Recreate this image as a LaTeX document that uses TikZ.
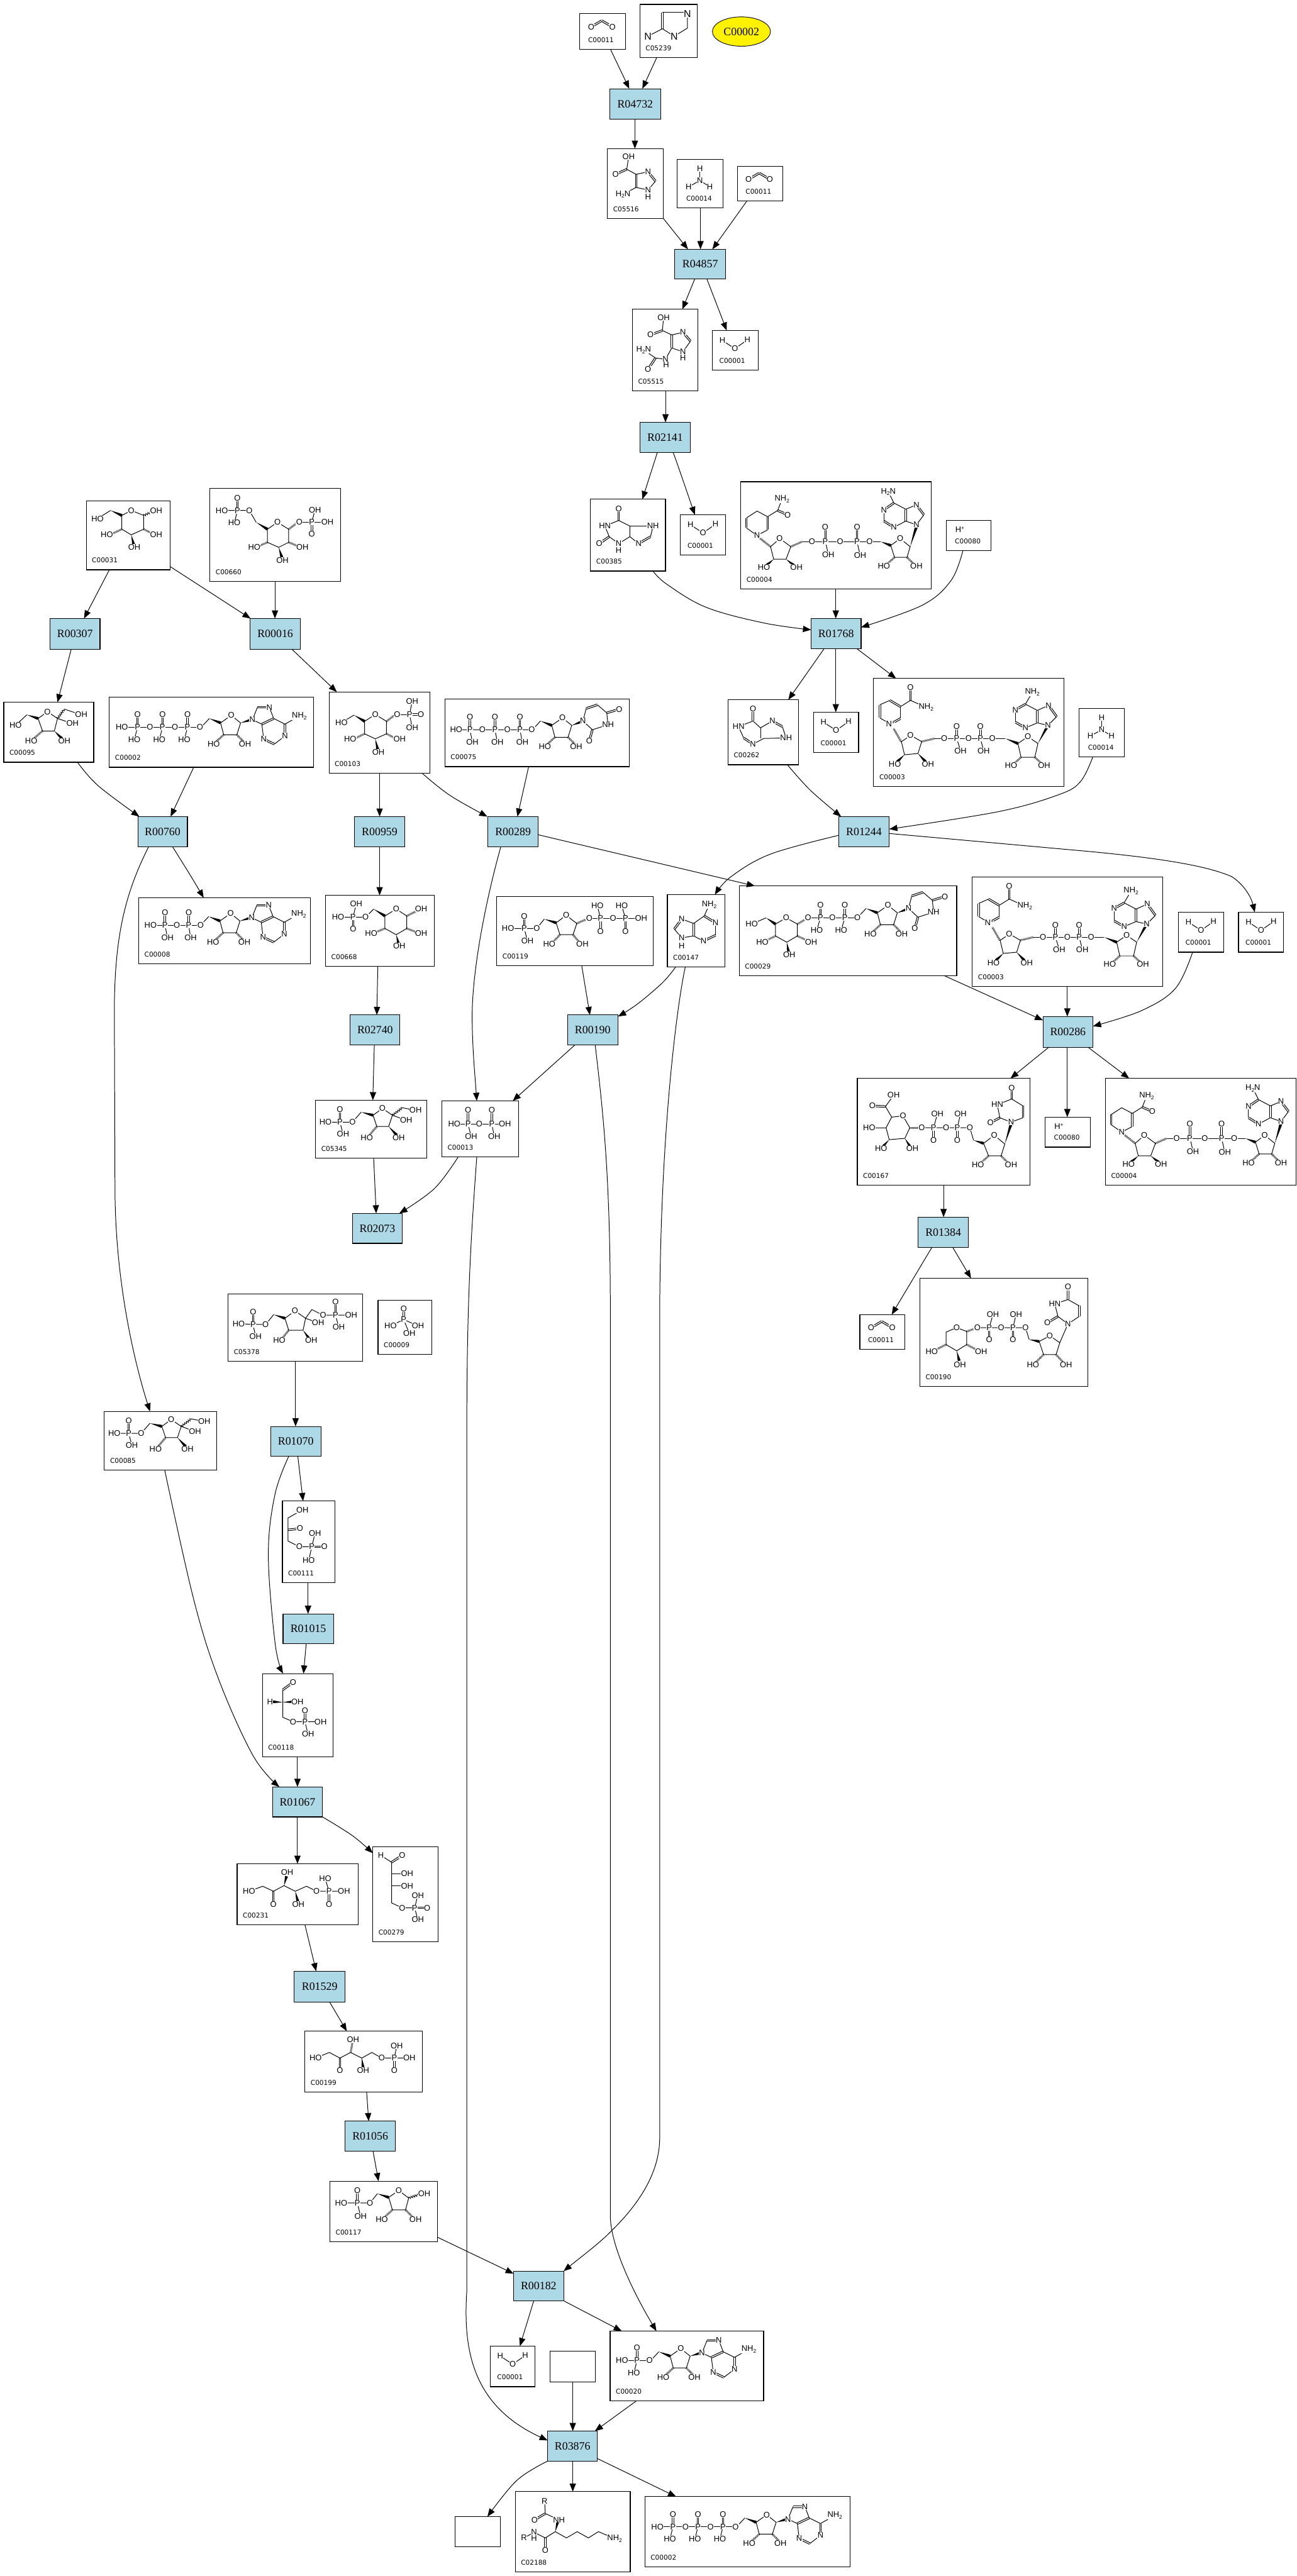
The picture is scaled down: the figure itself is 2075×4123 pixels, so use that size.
\documentclass[tikz,border=0pt]{standalone}
\usepackage{fontspec}
\usetikzlibrary{arrows.meta,calc,shapes.geometric,decorations.pathmorphing}
\newfontfamily\atomf{Liberation Sans}
\newfontfamily\capf{DejaVu Sans}
\newfontfamily\rxf{Liberation Serif}
\newcounter{atomc}
\definecolor{rxblue}{HTML}{ADD8E6}
\tikzset{
 cpd/.style={draw=black,line width=1.1pt,fill=white,inner sep=0,outer sep=0},
 rxn/.style={draw=black,line width=1.1pt,fill=rxblue,inner sep=0,outer sep=0,font=\rxf\fontsize{18}{18}\selectfont},
 capn/.style={inner sep=0,font=\capf\fontsize{10.6}{11}\selectfont},
 atom/.style={inner sep=.4pt,fill=white,font=\atomf\fontsize{13}{13}\selectfont},
 bd/.style={line width=1pt},
 wv/.style={line width=.9pt,decorate,decoration={zigzag,segment length=3.5pt,amplitude=1.6pt}},
 hs/.style={line width=3.2pt,dash pattern=on .8pt off 1.2pt},
 arr/.style={line width=1pt,-{Triangle[length=13pt,width=10pt]}}
}
\newcommand\Cpd[8][9]{%
 \node[cpd,minimum width={#5-#3},minimum height={#6-#4}] (#2) at ({(#3+#5)/2},{(#4+#6)/2}) {};
 \node[capn,anchor=west] (cap#2) at ({#3+#1},{#6-15}) {#7};
 \begin{scope}[shift={(#3,#4)}]#8\end{scope}}
\newcommand\Blank[5]{\node[cpd,minimum width={#4-#2},minimum height={#5-#3}] (#1) at ({(#2+#4)/2},{(#3+#5)/2}) {};}
\newcommand\Rx[5]{\node[rxn,minimum width={#4-#2},minimum height={#5-#3}] (#1) at ({(#2+#4)/2},{(#3+#5)/2}) {#1};}
\newcommand\At[4][]{\stepcounter{atomc}\node[atom,#1] (a\arabic{atomc}) at (#2,#3) {#4};}
\newcommand\Ats[1]{\foreach \x/\y/\tx in {#1}{\At{\x}{\y}{\tx}}}
\newcommand\Bd[1]{\draw[bd] #1;}
\def\Db#1{\DbX#1\relax}
\def\DbX(#1)--(#2)\relax{\draw[bd] ($(#1)!1.3pt!90:(#2)$) -- ($(#2)!1.3pt!-90:(#1)$);\draw[bd] ($(#1)!1.3pt!-90:(#2)$) -- ($(#2)!1.3pt!90:(#1)$);}
\newcommand\Wv[1]{\draw[wv] #1;}
\newcommand\Hs[4]{\draw[hs] (#1,#2) -- (#3,#4);}
\newcommand\Wd[4]{\fill ($(#3,#4)!2.4pt!90:(#1,#2)$) -- (#1,#2) -- ($(#3,#4)!2.4pt!-90:(#1,#2)$) -- cycle;}
\newcommand\NHii{NH\raisebox{-2.5pt}{\fontsize{8.5}{8.5}\selectfont 2}}
\newcommand\HiiN{H\raisebox{-2.5pt}{\fontsize{8.5}{8.5}\selectfont 2}N}
\newcommand\Hplus{H\raisebox{4pt}{\fontsize{8.5}{8.5}\selectfont +}}
\newcommand\Nplus{N\raisebox{4pt}{\fontsize{8.5}{8.5}\selectfont +}}
\newcommand\Pu[4]{\Db{(#1,#2)--(#1,{#2-20})}\Bd{(#1,#2)--({#1+#3},{#2+20})}\At{#1}{#2}{P}\At{#1}{#2-20}{O}\At{#1+#3}{#2+20}{#4}}
% ribose, origin at ring O
\newcommand\Ribo{\Bd{(0,0)--(15,12)--(9,31)--(-12,31)--(-17,12)--cycle}\Wd{-35}{5}{-17}{12}\Bd{(-35,5)--(-49,20)}\Hs{-12}{31}{-24}{42}\Hs{9}{31}{20}{42}\Ats{0/0/O,-28/46/HO,22/46/OH}}
\newcommand\Ade{\Wd{15}{12}{32}{7}\Bd{(34,7)--(42,-13)}\Db{(42,-13)--(61,-13)}\Bd{(61,-13)--(68,5)}\Db{(68,5)--(49,14)}\Bd{(49,14)--(34,7)}\Bd{(49,14)--(52,38)}\Db{(52,38)--(69,46)}\Bd{(69,46)--(86,33)}\Db{(86,33)--(86,14)}\Bd{(86,14)--(68,5)}\Bd{(86,14)--(109,1)}\Ats{34/7/N,61/-13/N,52/38/N,86/33/N,109/1/\NHii}}
\newcommand\Ura{\Wd{15}{12}{31}{6}\Bd{(33,5)--(38,-15)}\Db{(38,-15)--(56,-21)}\Bd{(56,-21)--(71,-8)--(73,11)--(48,19)--(33,5)}\Db{(71,-8)--(91,-14)}\Db{(48,19)--(43,37)}\Ats{33/5/N,73/11/NH,91/-14/O,43/37/O}}
\newcommand\mCO{\Db{(18,21)--(35,11)}\Db{(35,11)--(52,21)}\Ats{18/21/O,52/21/O}}
\newcommand\mWater{\Bd{(16,16)--(36,29)--(56,15)}\Ats{16/16/H,36/29/O,56/15/H}}
\newcommand\mNH{\Bd{(36,15)--(36,34)}\Bd{(18,44)--(36,34)--(52,44)}\Ats{36/15/H,36/34/N,18/44/H,52/44/H}}
\newcommand\mHp{\At{22}{15}{\Hplus}}
\newcommand\mImid{\Bd{(36,13)--(72,13)}\Bd{(76,15)--(76,38)--(55,51)--(36,39)}\Db{(36,13)--(36,39)}\Bd{(36,39)--(13,51)}\At[font=\atomf\fontsize{16}{16}\selectfont]{76}{15}{N}\At[font=\atomf\fontsize{16}{16}\selectfont]{55}{51}{N}\At[font=\atomf\fontsize{16}{16}\selectfont]{13}{51}{N}}
\newcommand\mAIR{\Bd{(34,13)--(31,33)}\Db{(31,33)--(13,41)}\Bd{(31,33)--(46,41)--(65,37)}\Db{(65,37)--(77,52)}\Bd{(77,52)--(65,66)--(46,62)}\Db{(46,41)--(46,62)}\Bd{(46,62)--(25,73)}\Ats{34/13/OH,13/41/O,65/37/N,65/66/N,65/77/H,25/73/\HiiN}}
\newcommand\mCAIR{\Bd{(50,13)--(48,34)}\Db{(48,34)--(29,41)}\Bd{(48,34)--(63,41)--(81,37)}\Db{(81,37)--(93,51)}\Bd{(93,51)--(81,68)--(63,62)}\Db{(63,41)--(63,62)}\Bd{(63,62)--(53,80)--(37,78)--(18,65)}\Db{(37,78)--(25,96)}\Ats{50/13/OH,29/41/O,81/37/N,81/68/N,81/78/H,53/80/N,54/89/H,18/65/\HiiN,25/96/O}}
\newcommand\mXan{\Db{(45,15)--(45,34)}\Bd{(45,34)--(23,43)--(30,60)--(45,71)--(63,60)--(63,43)--(45,34)}\Db{(30,60)--(14,71)}\Bd{(63,43)--(100,43)--(96,60)}\Db{(96,60)--(77,71)}\Bd{(77,71)--(63,60)}\Ats{45/15/O,23/43/HN,14/71/O,45/71/N,45/82/H,100/43/NH,77/71/N}}
\newcommand\mHyp{\Db{(40,14)--(40,34)}\Bd{(40,34)--(17,43)--(25,61)}\Db{(25,61)--(40,71)}\Bd{(40,71)--(57,62)--(93,61)--(87,43)}\Db{(87,43)--(71,34)}\Bd{(71,34)--(52,45)--(40,34)}\Bd{(52,45)--(52,62)}\Ats{40/14/O,17/43/HN,40/71/N,71/34/N,93/61/NH}}
\newcommand\mGlc{\Bd{(72,15)--(92,23)--(92,45)--(72,54)--(57,45)--(57,23)--cycle}\Wd{39}{15}{57}{23}\Bd{(39,15)--(18,28)}\Wv{(92,23)--(108,16)}\Hs{92}{45}{108}{53}\Hs{57}{45}{40}{53}\Wd{72}{54}{76}{70}\Ats{72/15/O,18/28/HO,112/15/OH,112/54/OH,33/54/HO,77/74/OH}}
\newcommand\mUDPAG{\Bd{(108,54)--(126,65)--(126,86)--(110,94)--(92,86)--(92,65)--cycle}\Wd{74}{54}{92}{65}\Bd{(74,54)--(63,35)--(19,35)}\Db{(44,35)--(44,15)}\Bd{(44,35)--(39,55)}\Hs{126}{65}{138}{56}\Bd{(143,54)--(188,54)}\Bd{(163,54)--(168,34)}\Db{(163,54)--(163,73)}\Hs{126}{86}{143}{93}\Hs{92}{86}{76}{93}\Wd{110}{94}{115}{110}\Ats{108/54/O,63/35/O,44/35/P,44/15/O,19/35/HO,39/55/HO,143/54/O,163/54/P,168/34/OH,188/54/OH,163/73/O,71/94/HO,148/94/OH,116/115/OH}}
\newcommand\mGoneP{\Bd{(74,36)--(92,47)--(92,67)--(74,75)--(57,67)--(57,47)--cycle}\Wd{40}{37}{57}{47}\Bd{(40,37)--(20,49)}\Hs{92}{47}{104}{38}\Bd{(109,36)--(129,36)}\Db{(129,36)--(147,36)}\Bd{(133,15)--(129,36)--(133,57)}\Hs{92}{67}{108}{75}\Hs{57}{67}{40}{75}\Wd{74}{75}{78}{92}\Ats{74/36/O,20/49/HO,109/36/O,129/36/P,147/36/O,133/15/OH,133/57/OH,34/75/HO,113/75/OH,79/96/OH}}
\newcommand\mGsixP{\Bd{(113,22)--(130,33)--(130,53)--(113,63)--(95,53)--(95,33)--cycle}\Wd{77}{22}{95}{33}\Bd{(77,22)--(64,35)--(20,35)}\Bd{(44,35)--(49,14)}\Db{(44,35)--(44,54)}\Hs{130}{33}{148}{24}\Hs{130}{53}{148}{60}\Hs{95}{53}{78}{60}\Wd{113}{63}{117}{78}\Ats{113/22/O,64/35/O,44/35/P,49/14/OH,20/35/HO,44/54/O,153/22/OH,153/61/OH,73/61/HO,118/81/OH}}
\newcommand\mFru{\Bd{(70,15)--(86,26)--(81,46)--(62,46)--(55,26)--cycle}\Wd{37}{20}{55}{26}\Bd{(37,20)--(19,37)}\Wv{(86,26)--(97,11)}\Bd{(97,11)--(124,20)}\Bd{(86,26)--(110,34)}\Hs{62}{46}{48}{58}\Wd{81}{46}{93}{58}\Ats{70/15/O,19/37/HO,124/20/OH,110/34/OH,44/62/HO,97/62/OH}}
\newcommand\mFsix{\Bd{(107,13)--(123,24)--(117,42)--(98,42)--(92,24)--cycle}\Wd{73}{19}{92}{24}\Bd{(73,19)--(59,35)--(16,35)}\Db{(39,35)--(39,15)}\Bd{(39,35)--(44,54)}\Wv{(123,24)--(139,12)}\Bd{(139,12)--(160,16)}\Bd{(123,24)--(145,32)}\Hs{98}{42}{86}{56}\Wd{117}{42}{130}{56}\Ats{107/13/O,59/35/O,39/35/P,39/15/O,16/35/HO,44/54/OH,160/16/OH,145/32/OH,82/60/HO,133/60/OH}}
\newcommand\mFbP{\Bd{(107,27)--(124,39)--(120,58)--(97,58)--(91,39)--cycle}\Wd{73}{33}{91}{39}\Bd{(73,33)--(60,49)--(17,48)}\Db{(40,49)--(40,29)}\Bd{(40,49)--(44,68)}\Bd{(124,39)--(134,25)--(152,34)--(197,34)}\Db{(172,34)--(172,13)}\Bd{(172,34)--(177,53)}\Bd{(124,39)--(144,46)}\Hs{97}{58}{86}{72}\Wd{120}{58}{130}{72}\Ats{107/27/O,60/49/O,40/49/P,40/29/O,17/48/HO,44/68/OH,152/34/O,172/34/P,172/13/O,197/34/OH,177/53/OH,144/46/OH,82/74/HO,133/74/OH}}
\newcommand\mPPi{\Bd{(20,37)--(101,37)}\Db{(42,37)--(42,15)}\Db{(80,37)--(80,15)}\Bd{(42,37)--(47,57)}\Bd{(80,37)--(84,57)}\Ats{20/37/HO,42/37/P,60/37/O,80/37/P,101/37/OH,42/15/O,80/15/O,47/57/OH,84/57/OH}}
\newcommand\mPi{\Db{(41,14)--(41,31)}\Bd{(20,41)--(41,31)--(64,41)}\Bd{(41,31)--(50,53)}\Ats{41/14/O,41/31/P,20/41/HO,64/41/OH,50/53/OH}}
\newcommand\mPRPP{\Bd{(111,30)--(128,43)--(122,61)--(101,61)--(95,42)--cycle}\Wd{76}{36}{95}{42}\Bd{(76,36)--(64,51)--(18,51)}\Db{(44,51)--(44,32)}\Bd{(44,51)--(49,71)}\Hs{128}{43}{142}{37}\Bd{(148,35)--(231,35)}\Bd{(166,35)--(161,15)}\Db{(166,35)--(166,56)}\Bd{(206,35)--(200,15)}\Db{(206,35)--(206,56)}\Hs{101}{61}{90}{73}\Hs{122}{61}{132}{73}\Ats{111/30/O,64/51/O,44/51/P,44/32/O,18/51/HO,49/71/OH,148/35/O,166/35/P,161/15/HO,166/56/O,186/35/O,206/35/P,200/15/HO,206/56/O,231/35/OH,84/76/HO,137/76/OH}}
\newcommand\mAdenine{\Bd{(67,16)--(59,34)}\Db{(59,34)--(77,45)}\Bd{(77,45)--(77,65)}\Db{(77,65)--(58,74)}\Bd{(58,74)--(42,66)}\Bd{(42,46)--(59,34)}\Db{(42,46)--(42,66)}\Bd{(42,46)--(23,39)}\Db{(23,39)--(11,55)}\Bd{(11,55)--(23,69)--(42,66)}\Ats{67/16/\NHii,77/45/N,58/74/N,23/39/N,23/69/N,23/82/H}}
\newcommand\mATP{\begin{scope}[shift={(195,29)}]\Ribo\Ade\Bd{(-175,19)--(-49,19)}\Pu{-70}{19}{-5}{HO}\Pu{-110}{19}{-5}{HO}\Pu{-150}{19}{-5}{HO}\Ats{-50/19/O,-90/19/O,-130/19/O,-175/19/HO}\end{scope}}
\newcommand\mADP{\begin{scope}[shift={(147,25)}]\Ribo\Ade\Bd{(-128,19)--(-48,19)}\Pu{-67}{19}{3}{OH}\Pu{-105}{19}{4}{OH}\Ats{-48/19/O,-86/19/O,-128/19/HO}\end{scope}}
\newcommand\mAMP{\begin{scope}[shift={(113,28)}]\Ribo\Ade\Bd{(-94,19)--(-49,19)}\Pu{-70}{19}{-5}{HO}\Ats{-50/19/O,-94/19/HO}\end{scope}}
\newcommand\mUTP{\begin{scope}[shift={(188,30)}]\Ribo\Ura\Bd{(-170,19)--(-49,19)}\Pu{-68}{19}{4}{OH}\Pu{-108}{19}{4}{OH}\Pu{-148}{19}{4}{OH}\Ats{-49/19/O,-88/19/O,-128/19/O,-170/19/HO}\end{scope}}
\newcommand\mUDPG{\begin{scope}[shift={(238,31)}]\Ribo\Ura\end{scope}\Bd{(75,51)--(93,61)--(93,80)--(76,90)--(58,80)--(58,61)--cycle}\Wd{43}{51}{58}{61}\Bd{(43,51)--(20,61)}\Hs{93}{61}{105}{54}\Bd{(110,51)--(189,51)}\Pu{130}{51}{-6}{HO}\Pu{169}{51}{-6}{HO}\Hs{93}{80}{110}{88}\Hs{58}{80}{42}{88}\Wd{76}{90}{79}{106}\Ats{75/51/O,20/61/HO,37/90/HO,115/90/OH,80/110/OH,110/51/O,149/51/O,189/51/O}}
\newcommand\mNADH{\Bd{(26,86)--(9,74)}\Db{(9,74)--(9,58)}\Bd{(9,58)--(26,47)--(43,56)}\Db{(43,56)--(43,77)}\Bd{(43,77)--(26,86)}\Bd{(43,56)--(59,46)--(66,28)}\Db{(59,46)--(75,53)}\Hs{47.6}{104}{30}{90}%
\Bd{(62.5,91)--(47.6,104)--(52.6,124)--(72.5,124)--(80,104)--cycle}\Wd{52.6}{124}{41}{134}\Wd{72.5}{124}{85}{134}\Hs{80}{104}{98}{96}\Bd{(98,96)--(224,96)}\Db{(135.5,96)--(135.5,73)}\Bd{(135.5,96)--(140,116)}\Db{(186,96)--(186,73)}\Bd{(186,96)--(191,118)}\Wd{224}{96}{240}{102}%
\Bd{(255,91)--(271,104)--(266,121)--(246,121)--(240,102)--cycle}\Hs{246}{121}{234}{132}\Hs{266}{121}{277}{132}\Wd{271}{104}{281}{72}%
\Bd{(281,69)--(293,53)}\Db{(293,53)--(281,37)}\Bd{(281,37)--(264,44)}\Db{(264,44)--(264,63)}\Bd{(264,63)--(281,69)}\Bd{(264,63)--(245,73)}\Db{(245,73)--(229,63)}\Bd{(229,63)--(229,45)}\Db{(229,45)--(245,34)}\Bd{(245,34)--(264,44)}\Bd{(245,34)--(236,16)}%
\Ats{26/86/N,75/53/O,66/28/\NHii,62/91/O,37/137/HO,89/137/OH,114/96/O,135/96/P,135/73/O,140/117/OH,159/96/O,186/96/P,186/73/O,191/118/OH,206/96/O,255/91/O,229/135/HO,281/135/OH,281/69/N,281/37/N,245/73/N,229/45/N,236/16/\HiiN}}
\newcommand\mNADp{\Bd{(27,73)--(10,63)}\Db{(10,63)--(10,42)}\Bd{(10,42)--(26,35)}\Db{(26,35)--(43,45)}\Bd{(43,45)--(43,64)}\Db{(43,64)--(27,73)}\Bd{(43,45)--(59,35)--(84,46)}\Db{(59,35)--(59,14)}\Hs{44}{101}{32}{80}%
\Bd{(59.5,91)--(44.5,101)--(49.5,122)--(71,120)--(77,101)--cycle}\Wd{49.5}{122}{38}{133}\Wd{71}{120}{83}{133}\Hs{77}{101}{97}{96}\Bd{(97,96)--(211,96)}\Db{(133,96)--(133,77)}\Bd{(133,96)--(139,115)}\Db{(171,96)--(171,77)}\Bd{(171,96)--(176,115)}\Wd{211}{96}{231}{104}%
\Bd{(247,93)--(263,104)--(258,126)--(236,126)--(231,104)--cycle}\Hs{236}{126}{225}{136}\Hs{258}{126}{269}{136}\Wd{263}{104}{279}{75}%
\Bd{(279,75)--(293,61)}\Db{(293,61)--(280,43)}\Bd{(280,43)--(262,51)}\Db{(262,51)--(262,71)}\Bd{(262,71)--(279,75)}\Bd{(262,71)--(243,79)}\Db{(243,79)--(227,70)}\Bd{(227,70)--(227,50)}\Db{(227,50)--(243,41)}\Bd{(243,41)--(262,51)}\Bd{(243,41)--(254,22)}%
\Ats{27/73/\Nplus,59/14/O,84/46/\NHii,59/91/O,34/137/HO,87/137/OH,113/96/O,133/96/P,133/77/O,139/116/OH,152/96/O,171/96/P,171/77/O,176/116/OH,190/96/O,247/93/O,220/139/HO,273/139/OH,279/75/N,280/43/N,243/79/N,227/50/N,254/22/\NHii}}
\newcommand\mUDPGA{\Bd{(58,27)--(45,45)--(55,62)}\Db{(45,45)--(24,44)}\Bd{(55,62)--(73,60)--(84,79)--(76,96)--(51,98)--(46,79)--cycle}\Bd{(46,79)--(19,79)}\Wd{51}{98}{40}{110}\Wd{76}{96}{85}{110}\Hs{84}{79}{98}{79}\Bd{(103,79)--(180,79)--(186,99)}\Bd{(122,79)--(128,57)}\Db{(122,79)--(122,99)}\Bd{(160,79)--(165,57)}\Db{(160,79)--(160,99)}\Wd{186}{99}{202}{104}\Bd{(219,91)--(236,105)--(230,124)--(210,124)--(202,104)--cycle}\Hs{210}{124}{198}{135}\Hs{230}{124}{241}{135}\Wd{236}{105}{246}{73}\Bd{(246,70)--(265,63)}\Db{(265,63)--(265,44)}\Bd{(265,44)--(247,33)--(224,42)--(228,63)--(246,70)}\Db{(247,33)--(247,15)}\Db{(228,63)--(213,71)}\Ats{58/27/OH,24/44/O,73/60/O,19/79/HO,38/112/HO,88/112/OH,103/79/O,122/79/P,128/57/OH,122/99/O,142/79/O,160/79/P,165/57/OH,160/99/O,180/79/O,219/91/O,193/138/HO,246/138/OH,246/70/N,247/15/O,224/42/HN,213/71/O}}
\newcommand\mUDPX{\Bd{(59,79)--(75,85)--(75,106)--(59,116)--(42,106)--(42,86)--cycle}\Hs{75}{85}{87}{81}\Bd{(92,79)--(169,79)--(175,98)}\Bd{(111,79)--(117,58)}\Db{(111,79)--(111,98)}\Bd{(149,79)--(154,58)}\Db{(149,79)--(149,98)}\Hs{42}{106}{26}{114}\Hs{75}{106}{90}{114}\Wd{59}{116}{63}{132}\Wd{175}{98}{191}{101}\Bd{(208,92)--(224,103)--(218,122)--(198,122)--(191,101)--cycle}\Hs{198}{122}{186}{134}\Hs{218}{122}{229}{134}\Bd{(224,103)--(237,73)--(255,61)}\Db{(255,61)--(255,44)}\Bd{(255,44)--(237,34)--(216,41)--(221,61)--(237,73)}\Db{(237,34)--(237,14)}\Db{(221,61)--(204,71)}\Ats{59/79/O,19/117/HO,98/117/OH,64/138/OH,92/79/O,111/79/P,117/58/OH,111/98/O,130/79/O,149/79/P,154/58/OH,149/98/O,169/79/O,208/92/O,181/138/HO,234/138/OH,237/73/N,237/14/O,216/41/HN,204/71/O}}
\newcommand\mGAP{\Db{(49,14)--(32.5,26)}\Bd{(32.5,26)--(32.5,70)--(49,77)--(93,77)}\Wd{32.5}{46}{16}{45}\Wd{32.5}{46}{50}{45}\Db{(68,77)--(68,59)}\Bd{(68,77)--(73,97)}\Ats{49/14/O,12/45/H,56/45/OH,49/77/O,68/77/P,68/59/O,93/77/OH,73/97/OH}}
\newcommand\mDHAP{\Bd{(32,14)--(9,27)--(9,64)--(27,73)--(47,73)}\Db{(9,46)--(28,44)}\Bd{(47,73)--(52,52)}\Db{(47,73)--(67,73)}\Bd{(47,73)--(42,95)}\Ats{32/14/OH,28/44/O,27/73/O,47/73/P,52/52/OH,67/73/O,42/95/HO}}
\newcommand\mXuP{\Bd{(19,44)--(41,36)--(58,44)--(75,35)--(93,44)--(111,36)--(127,44)--(171,44)}\Db{(58,44)--(58,65)}\Wd{75}{35}{79}{20}\Wd{93}{44}{97}{60}\Bd{(147,44)--(141,24)}\Db{(147,44)--(147,65)}\Ats{19/44/HO,58/65/O,80/14/OH,98/65/OH,127/44/O,147/44/P,141/24/HO,171/44/OH,147/65/O}}
\newcommand\mEP{\Bd{(13,14)--(30,25)}\Db{(30,25)--(47,14)}\Bd{(30,25)--(30,90)--(47,98)--(67,98)}\Bd{(30,43)--(55,43)}\Bd{(30,63)--(55,63)}\Bd{(67,98)--(72,78)}\Db{(67,98)--(87,98)}\Bd{(67,98)--(72,117)}\Ats{13/14/H,47/14/O,55/43/OH,55/63/OH,47/98/O,67/98/P,72/78/OH,87/98/O,72/117/OH}}
\newcommand\mRuP{\Bd{(17,43)--(39,34)--(56,43)--(73,34)--(91,43)--(107,34)--(123,43)--(167,43)}\Db{(56,43)--(56,63)}\Hs{73}{34}{76}{18}\Wd{91}{43}{93}{58}\Bd{(143,43)--(147,23)}\Db{(143,43)--(143,63)}\Ats{17/43/HO,56/63/O,77/13/OH,93/63/OH,123/43/O,143/43/P,147/23/OH,167/43/OH,143/63/O}}
\newcommand\mRFP{\Bd{(110,15)--(126,27)--(121,46)--(100,46)--(94,26)--cycle}\Wd{76}{20}{94}{26}\Bd{(76,20)--(64,35)--(18,35)}\Db{(44,35)--(44,15)}\Bd{(44,35)--(49,56)}\Wv{(126,27)--(144,21)}\Hs{100}{46}{88}{57}\Hs{121}{46}{132}{57}\Ats{110/15/O,64/35/O,44/35/P,44/15/O,18/35/HO,49/56/OH,151/20/OH,83/61/HO,137/61/OH}}
\newcommand\mLys{\Bd{(47,15)--(48,35)--(70,45)}\Db{(48,35)--(31,45)}\Wd{64}{64}{68}{48}\Bd{(30,65)--(48,74)--(64,64)--(82,74)--(99,64)--(117,74)--(133,64)--(159,75)}\Db{(48,74)--(48,94)}\Bd{(30,65)--(14,74)}\Ats{47/15/R,31/45/O,70/45/NH,48/94/O,30/65/N,30/75/H,14/74/R,159/75/\NHii}}

\begin{document}
\begin{tikzpicture}[x=1pt,y=-1pt]
\useasboundingbox (0,0) rectangle (2075,4123);
\fill[white] (0,0) rectangle (2075,4123);
% reactions
\Rx{R04732}{976}{142}{1057}{191}
\Rx{R04857}{1080}{399}{1161}{446}
\Rx{R02141}{1024}{676}{1105}{724}
\Rx{R01768}{1298}{990}{1378}{1038}
\Rx{R01244}{1342}{1307}{1423}{1355}
\Rx{R00307}{80}{990}{160}{1039}
\Rx{R00016}{400}{990}{481}{1039}
\Rx{R00760}{220.5}{1307}{300}{1355}
\Rx{R00959}{567}{1307}{648}{1355}
\Rx{R00289}{781}{1307}{861}{1355}
\Rx{R02740}{560.5}{1624.5}{640}{1672.5}
\Rx{R00190}{908}{1624.5}{989}{1672.5}
\Rx{R00286}{1669}{1627}{1749}{1676}
\Rx{R02073}{564}{1942}{644}{1990}
\Rx{R01384}{1469}{1948}{1550}{1997}
\Rx{R01070}{433}{2283}{513.5}{2331}
\Rx{R01015}{453}{2583}{533.6}{2631}
\Rx{R01067}{436}{2860}{516}{2908}
\Rx{R01529}{471}{3155}{552}{3204}
\Rx{R01056}{552}{3395}{633}{3443}
\Rx{R00182}{822}{3635}{902}{3683}
\Rx{R03876}{876.4}{3891}{956}{3939}
% compounds
\node[ellipse,draw=black,line width=.9pt,fill=yellow,inner sep=0,minimum width=93,minimum height=47,font=\rxf\fontsize{18}{18}\selectfont] (Cyellow) at (1186.5,50.5) {C00002};
\Cpd[13]{CO2a}{928}{22}{1001}{79}{C00011}{\mCO}
\Cpd{C05239}{1024}{7}{1116}{92}{C05239}{\mImid}
\Cpd{C05516}{972}{238}{1061}{350}{C05516}{\mAIR}
\Cpd[14]{NH3a}{1084}{255}{1157}{333}{C00014}{\mNH}
\Cpd[13]{CO2b}{1180}{266}{1253}{322}{C00011}{\mCO}
\Cpd{C05515}{1012}{495}{1117}{626}{C05515}{\mCAIR}
\Cpd[11]{H2Oa}{1140}{529}{1213}{592}{C00001}{\mWater}
\Cpd{C00385}{945}{799}{1065}{914}{C00385}{\mXan}
\Cpd[11]{H2Ob}{1089}{824}{1161}{888}{C00001}{\mWater}
\Cpd{NADHa}{1185.5}{771}{1490}{942.5}{C00004}{\mNADH}
\Cpd[14]{Hpa}{1514}{832.5}{1586}{881}{C00080}{\mHp}
\Cpd{C00262}{1165}{1120}{1278}{1224}{C00262}{\mHyp}
\Cpd[11]{H2Oc}{1302}{1140}{1374}{1204}{C00001}{\mWater}
\Cpd{NADa}{1398}{1086}{1703}{1259}{C00003}{\mNADp}
\Cpd[14]{NH3b}{1727}{1134}{1799}{1211}{C00014}{\mNH}
\Cpd{C00031}{138}{802}{272}{912}{C00031}{\mGlc}
\Cpd{C00660}{336}{782}{545}{931}{C00660}{\mUDPAG}
\Cpd{C00095}{6}{1124}{150}{1220}{C00095}{\mFru}
\Cpd{ATPa}{175}{1116}{502}{1228}{C00002}{\mATP}
\Cpd{C00103}{526.5}{1107.5}{688}{1238}{C00103}{\mGoneP}
\Cpd{C00075}{712}{1119}{1007}{1227}{C00075}{\mUTP}
\Cpd{C00008}{222}{1437}{497}{1543}{C00008}{\mADP}
\Cpd{C00668}{521}{1433}{695}{1547}{C00668}{\mGsixP}
\Cpd{C00119}{795}{1435}{1045}{1546}{C00119}{\mPRPP}
\Cpd{C00147}{1068}{1432}{1160}{1548}{C00147}{\mAdenine}
\Cpd{C00029}{1183}{1418}{1531}{1562}{C00029}{\mUDPG}
\Cpd{NADb}{1556}{1404}{1861}{1579}{C00003}{\mNADp}
\Cpd[11]{H2Od}{1886}{1460}{1958}{1524}{C00001}{\mWater}
\Cpd[11]{H2Oe}{1982}{1460}{2054}{1524}{C00001}{\mWater}
\Cpd{C05345}{505}{1761}{683}{1854}{C05345}{\mFsix}
\Cpd{C00013}{707}{1762}{830}{1852}{C00013}{\mPPi}
\Cpd{C00167}{1372}{1726}{1648}{1897}{C00167}{\mUDPGA}
\Cpd[14]{Hpb}{1672.5}{1788}{1745}{1836}{C00080}{\mHp}
\Cpd{NADHb}{1769}{1726}{2074}{1897}{C00004}{\mNADH}
\Cpd{C05378}{365}{2071}{580.5}{2179}{C05378}{\mFbP}
\Cpd{C00009}{605}{2081}{691}{2168}{C00009}{\mPi}
\Cpd[13]{CO2c}{1376}{2104}{1448}{2160}{C00011}{\mCO}
\Cpd{C00190}{1472}{2046}{1741}{2219}{C00190}{\mUDPX}
\Cpd{C00085}{167}{2259}{347}{2353}{C00085}{\mFsix}
\Cpd{C00111}{452}{2402.5}{535.6}{2533}{C00111}{\mDHAP}
\Cpd{C00118}{420}{2678.6}{532.6}{2812}{C00118}{\mGAP}
\Cpd{C00231}{379.5}{2983}{573}{3080.6}{C00231}{\mXuP}
\Cpd{C00279}{596.6}{2955.6}{701}{3108}{C00279}{\mEP}
\Cpd{C00199}{488}{3251}{676}{3348}{C00199}{\mRuP}
\Cpd{C00117}{528}{3491}{700}{3588}{C00117}{\mRFP}
\Cpd[11]{H2Of}{784.5}{3755}{856}{3820}{C00001}{\mWater}
\Blank{BlankA}{880.5}{3763}{953}{3812}
\Cpd{C00020}{976.4}{3731}{1222}{3843}{C00020}{\mAMP}
\Blank{BlankB}{728.7}{4028}{800.5}{4076}
\Cpd{C02188}{824.6}{3988}{1008.6}{4116}{C02188}{\mLys}
\Cpd{ATPb}{1032}{3996}{1360}{4108}{C00002}{\mATP}
% connectors
\newcommand\SN[4]{\draw[arr] (#2,0 |- #1.south) -- (#4,0 |- #3.north);}
\newcommand\Cv[1]{\draw[arr] plot[smooth,tension=.6] coordinates {#1};}
\SN{CO2a}{977}{R04732}{1007}
\SN{C05239}{1051}{R04732}{1028}
\SN{R04732}{1016}{C05516}{1016}
\draw[arr] (C05516.east |- 0,349) -- (1101,0 |- R04857.north);
\SN{NH3a}{1121}{R04857}{1121}
\SN{CO2b}{1195}{R04857}{1140}
\SN{R04857}{1112}{C05515}{1092}
\SN{R04857}{1131}{H2Oa}{1163}
\SN{C05515}{1065}{R02141}{1065}
\SN{R02141}{1052}{C00385}{1028}
\Cv{(1077,0 |- R02141.south) (1083,740) (1112,0 |- H2Ob.north)}
\Cv{(1045,0 |- C00385.south) (1067,935) (1130,972) (1222,997) (R01768.west |- 0,1008)}
\SN{NADHa}{1337.5}{R01768}{1337.5}
\Cv{(1541,0 |- Hpa.south) (1522,929) (1476,968.6) (R01768.east |- 0,1004)}
\SN{R01768}{1319}{C00262}{1261.5}
\SN{R01768}{1337.5}{H2Oc}{1337.5}
\SN{R01768}{1371}{NADa}{1434}
\Cv{(1260,0 |- C00262.south) (1297,1265) (1346,0 |- R01244.north)}
\Cv{(1749,0 |- NH3b.south) (1729,1251) (1694,1272) (1598,1299) (R01244.east |- 0,1327)}
\Cv{(R01244.west |- 0,1337) (1233,1367) (1170,1403) (1144,0 |- C00147.north)}
\draw[arr] (R01244.east |- 0,1334) -- (1712,1360) .. controls (1850,1372) and (1930,1385) .. (1971,1403) .. controls (1990,1415) and (2002,1435) .. (2008,0 |- H2Oe.north);
\draw[arr] (R00289.east |- 0,1336) -- (1208,0 |- C00029.north);
\draw[arr] (1512,0 |- C00029.south) -- (R00286.west |- 0,1633);
\SN{NADb}{1708}{R00286}{1708}
\Cv{(1908.5,0 |- H2Od.south) (1881,1582) (1826.6,1617.6) (R00286.east |- 0,1642.5)}
\SN{R00286}{1678.5}{C00167}{1617}
\SN{R00286}{1708}{Hpb}{1708}
\SN{R00286}{1741}{NADHb}{1807}
\SN{C00167}{1510}{R01384}{1510}
\SN{R01384}{1491}{CO2c}{1427}
\SN{R01384}{1525}{C00190}{1554}
\SN{C00031}{175}{R00307}{134.4}
\draw[arr] (C00031.east |- 0,906.6) -- (401,0 |- R00016.north);
\SN{C00660}{440}{R00016}{440}
\SN{R00016}{467}{C00103}{539}
\SN{R00307}{114}{C00095}{92}
\Cv{(124,0 |- C00095.south) (157,1257.5) (223,0 |- R00760.north)}
\SN{ATPa}{310}{R00760}{273}
\SN{C00103}{607.5}{R00959}{607.5}
\Cv{(676,0 |- C00103.south) (720,1273) (780,0 |- R00289.north)}
\SN{C00075}{846}{R00289}{828}
\Cv{(276,0 |- R00760.south) (304,1400) (326,0 |- C00008.north)}
\draw[arr] (238,0 |- R00760.south) .. controls (200,1430) and (183,1500) .. (183,1620) -- (184,1900) .. controls (184,2050) and (215,2180) .. (240,0 |- C00085.north);
\SN{R00959}{607.5}{C00668}{607.5}
\SN{C00668}{604.6}{R02740}{603}
\SN{R02740}{599}{C05345}{596.6}
\SN{C05345}{598}{R02073}{602}
\Cv{(733,0 |- C00013.south) (695,1902.5) (639,0 |- R02073.north)}
\SN{R00190}{920}{C00013}{820.5}
\draw[arr] (801.5,0 |- R00289.south) .. controls (775,1450) and (755,1560) .. (755.6,1630) .. controls (756,1680) and (760,1720) .. (763,0 |- C00013.north);
\SN{C00119}{931}{R00190}{944}
\Cv{(1081,0 |- C00147.south) (1060,1573) (1020,1607) (R00190.east |- 0,1627)}
\draw[arr] (952.5,0 |- R00190.south) .. controls (965,1780) and (976.7,1880) .. (976.7,2100) -- (976.7,3548) .. controls (978,3600) and (1020,3680) .. (1050.5,0 |- C00020.north);
\draw[arr] (1096.6,0 |- C00147.south) .. controls (1085,1600) and (1057,1800) .. (1055.7,2100) -- (1055.7,3423) .. controls (1055,3480) and (1020,3530) .. (979,3570) .. controls (960,3590) and (930,3612) .. (R00182.north east);
\draw[arr] (763,0 |- C00013.south) .. controls (752,2000) and (747,2100) .. (747,2300) -- (747,3667) .. controls (741,3760) and (755,3850) .. (R03876.west |- 0,3906);
\SN{C05378}{473}{R01070}{473}
\SN{R01070}{476.6}{C00111}{485}
\Cv{(462,0 |- R01070.south) (440,2392) (429.4,2489) (440.5,2632) (453,0 |- C00118.north)}
\SN{C00111}{493}{R01015}{493}
\SN{R01015}{490}{C00118}{485.7}
\SN{C00118}{476}{R01067}{476}
\Cv{(263.6,0 |- C00085.south) (310,2560) (350,2688) (405,2810) (447,0 |- R01067.north)}
\SN{R01067}{476}{C00231}{476}
\Cv{(R01067.south east) (564,2938) (C00279.west |- 0,2966)}
\SN{C00231}{488}{R01529}{506}
\SN{R01529}{527.3}{C00199}{555}
\SN{C00199}{586.7}{R01056}{590}
\SN{R01056}{597}{C00117}{605.7}
\draw[arr] (C00117.east |- 0,3580.7) -- (R00182.west |- 0,3639);
\SN{R00182}{854}{H2Of}{832}
\SN{R00182}{903}{C00020}{995}
\SN{BlankA}{916.6}{R03876}{916.6}
\SN{C00020}{1018}{R03876}{952}
\Cv{(R03876.south west) (827,3970) (780,0 |- BlankB.north)}
\SN{R03876}{916.6}{C02188}{916.6}
\draw[arr] (R03876.east |- 0,3935) -- (1082,0 |- ATPb.north);
\end{tikzpicture}
\end{document}
